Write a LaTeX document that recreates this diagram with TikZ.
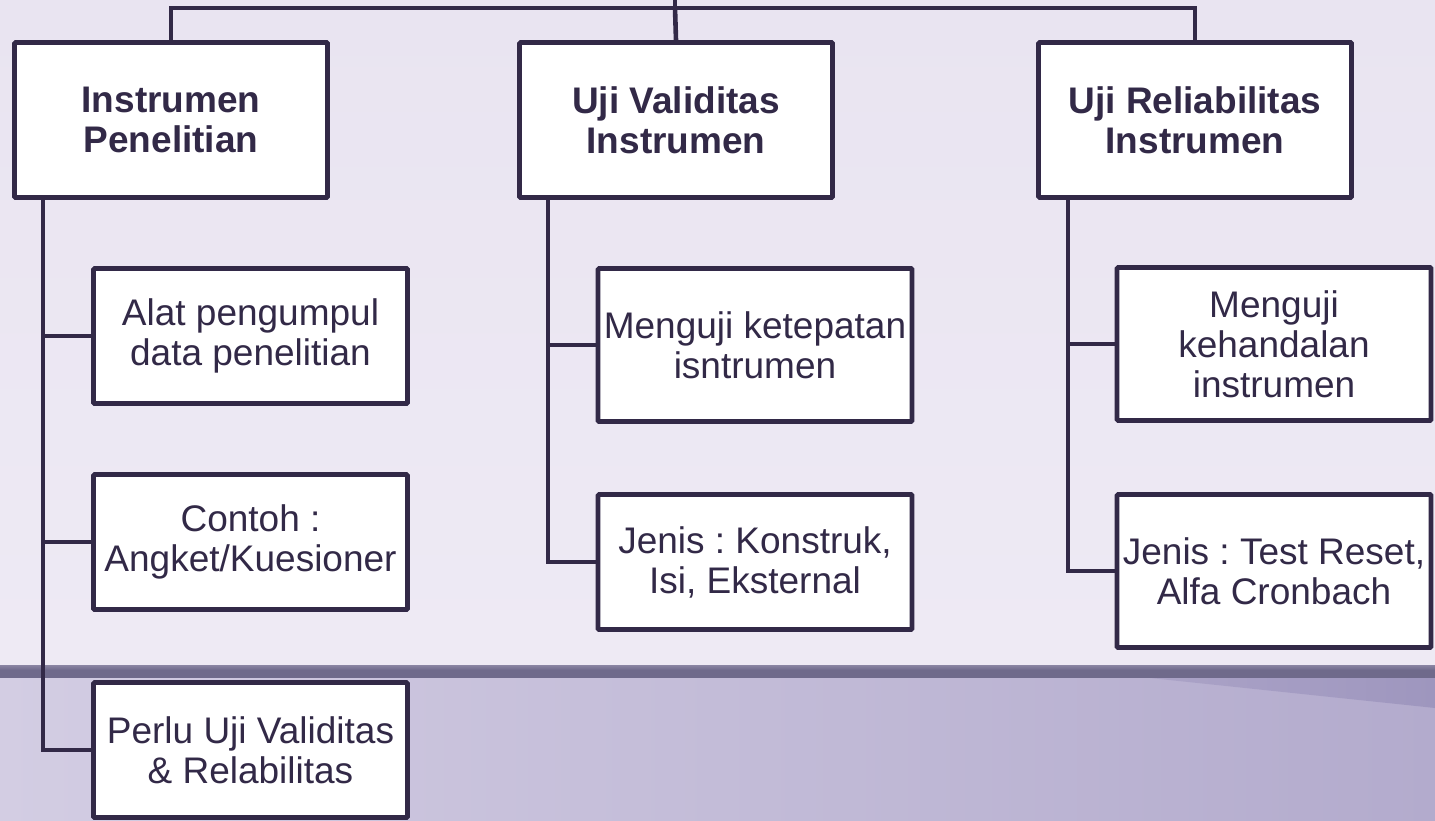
\documentclass[tikz,border=0pt]{standalone}
\usepackage{fontspec}
\setmainfont{Liberation Sans}
\frenchspacing
\usetikzlibrary{calc}
\definecolor{ink}{HTML}{322947}
\definecolor{bgtop}{HTML}{E9E4F1}
\definecolor{bgtoplow}{HTML}{EEEAF4}
\definecolor{band}{HTML}{6F6A8B}
\definecolor{bandlt}{HTML}{8A85A3}
\definecolor{lowl}{HTML}{D3CDE3}
\definecolor{lowr}{HTML}{B3ABCD}
\definecolor{wedge}{HTML}{9B93BC}
\tikzset{
  box/.style={draw=ink, fill=white, line width=4.6pt, rounded corners=1pt, text=ink,
    align=center, inner sep=0pt, font=\fontsize{37}{40}\selectfont},
  topbox/.style={box, minimum width=313pt, minimum height=155pt, font=\bfseries\fontsize{37}{40}\selectfont},
  kidbox/.style={box, minimum width=314pt, minimum height=135pt},
  tallkid/.style={box, minimum width=314pt, minimum height=153pt},
  link/.style={draw=ink, line width=4.6pt, line join=miter}
}
\begin{document}
\begin{tikzpicture}[x=1pt,y=-1pt]
\useasboundingbox (0,0) rectangle (1435,820);
% background
\shade[top color=bgtop, bottom color=bgtoplow] (0,0) rectangle (1435,665);
\shade[top color=bandlt, bottom color=band] (0,665) rectangle (1435,670);
\fill[band] (0,670) rectangle (1435,678);
\shade[left color=lowl, right color=lowr] (0,678) rectangle (1435,820);
\shade[left color=lowr!60!wedge, right color=wedge, opacity=0.85] (1150,678) -- (1435,678) -- (1435,708) -- cycle;

% top level
\node[topbox] (p1) at (171,120) {Instrumen\\Penelitian};
\node[topbox] (p2) at (676,120) {Uji Validitas\\Instrumen};
\node[topbox] (p3) at (1195,120) {Uji Reliabilitas\\Instrumen};

% children
\node[kidbox] (c11) at (250.5,336) {Alat pengumpul\\data penelitian};
\node[kidbox] (c12) at (250.5,542) {Contoh :\\Angket/Kuesioner};
\node[kidbox] (c13) at (250.5,750) {Perlu Uji Validitas\\\& Relabilitas};

\node[tallkid] (c21) at (755,345) {Menguji ketepatan\\isntrumen};
\node[kidbox] (c22) at (755,562) {Jenis : Konstruk,\\Isi, Eksternal};

\node[tallkid] (c31) at (1274,344) {Menguji\\kehandalan\\instrumen};
\node[tallkid] (c32) at (1274,571) {Jenis : Test Reset,\\Alfa Cronbach};

% top connectors
\coordinate (root) at (675,0);
\coordinate (bar) at (675,8);
\draw[link] (root) -- (bar);
\draw[link] (p1.north) |- (bar) -| (p3.north);
\draw[link] (bar) -- (p2.north);

% spines
\coordinate (s1) at (43,200);
\coordinate (s2) at (548,200);
\coordinate (s3) at (1068,200);
\draw[link] (s1) |- (c13.west);
\draw[link] (s1 |- c11.west) -- (c11.west);
\draw[link] (s1 |- c12.west) -- (c12.west);
\draw[link] (s2) |- (c22.west);
\draw[link] (s2 |- c21.west) -- (c21.west);
\draw[link] (s3) |- (c32.west);
\draw[link] (s3 |- c31.west) -- (c31.west);
\end{tikzpicture}
\end{document}
